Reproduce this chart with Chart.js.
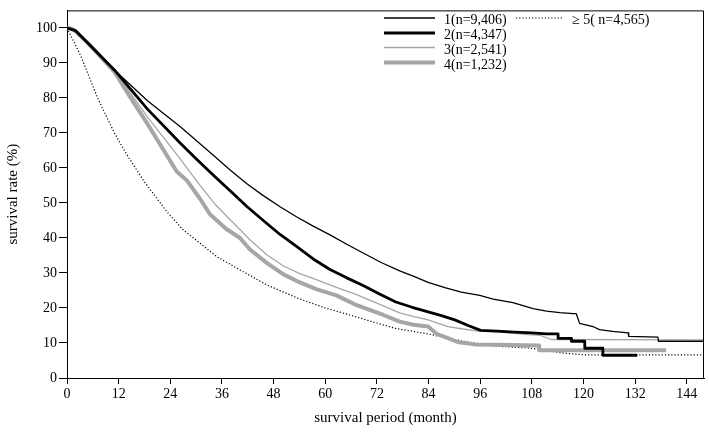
<!DOCTYPE html>
<html><head><meta charset="utf-8">
<script src="https://cdn.jsdelivr.net/npm/chart.js@4"></script>
<style>html,body{margin:0;padding:0;background:#fff}</style>
</head><body>
<canvas id="c" width="709" height="432"></canvas>
<script>
// ---- data ----
const seriesLabels = ['1(n=9,406)', '2(n=4,347)', '3(n=2,541)', '4(n=1,232)', '\u2265 5( n=4,565)'];
const xTicks = [0, 12, 24, 36, 48, 60, 72, 84, 96, 108, 120, 132, 144];
const yTicks = [0, 10, 20, 30, 40, 50, 60, 70, 80, 90, 100];

const months1 = [0, 2, 5, 11, 18.7, 26.4, 34.2, 37.9, 41.8, 45.6, 49.5, 53.4, 57.2, 61.1, 65, 68.8, 73, 77.3, 80.6, 83.9, 87.8, 91.6, 95.9, 99, 103.6, 108.3, 111.4, 114.5, 117.6, 118.3, 119.1, 122.2, 123.7, 126.8, 130.4, 130.5, 137.3, 137.4, 148];
const surv1   = [100, 99.2, 95.5, 88, 79.2, 71.7, 63.4, 59.4, 55.5, 52.1, 48.9, 46, 43.4, 40.9, 38.2, 35.7, 33, 30.6, 29, 27.3, 25.8, 24.5, 23.6, 22.5, 21.5, 19.8, 19.1, 18.7, 18.4, 18.4, 15.6, 14.7, 13.8, 13.3, 12.9, 11.9, 11.7, 10.5, 10.5];

const months2 = [0, 2, 5, 11, 18.7, 26.4, 30.3, 34.2, 37.9, 41.8, 45.6, 49.5, 53.4, 57.2, 61.1, 65, 68.8, 72.6, 76.4, 80.2, 83.9, 87, 90.1, 93.2, 96.1, 100, 104, 108, 111.4, 114.1, 114.1, 117.2, 117.2, 120.3, 120.3, 124.5, 124.5, 132.5];
const surv2   = [100, 99.2, 95.5, 88, 76.8, 67, 62.3, 57.7, 53.5, 49, 45, 41, 37.5, 34, 31, 28.6, 26.4, 24, 21.7, 20.2, 18.9, 17.8, 16.6, 15, 13.6, 13.4, 13.1, 12.9, 12.6, 12.6, 11.3, 11.3, 10.5, 10.5, 8.5, 8.5, 6.5, 6.5];

const months3 = [0, 2, 5, 11, 18.7, 25.4, 30.9, 34.5, 38.5, 42.5, 46.4, 50.3, 54.1, 57.9, 62.6, 67.3, 73.5, 77.3, 80.6, 83.9, 88.5, 92, 95.5, 100, 107.1, 110, 112.5, 148];
const surv3   = [100, 99.2, 95.5, 88, 74.5, 64, 55, 49.5, 44.5, 39.5, 35.2, 32, 29.8, 28.1, 25.9, 23.8, 20.6, 18.6, 17.5, 16.6, 14.7, 14, 13.4, 13.2, 12.4, 12.2, 11, 10.9];

const months4 = [0, 1, 2, 5, 11, 14.8, 18.7, 23, 25.5, 27.8, 30.9, 33.2, 37.1, 40.2, 42.5, 46.4, 50.3, 54.1, 57.9, 62.6, 67.3, 73.5, 77.3, 80.5, 83.9, 86, 88.5, 91, 94.7, 100, 109.7, 109.7, 139.2];
const surv4   = [100, 99.8, 99, 95.5, 87.5, 80, 72.6, 64, 59, 56.5, 51.2, 46.8, 42.5, 40, 36.7, 32.9, 29.6, 27.3, 25.4, 23.6, 20.8, 18, 16.1, 15.2, 14.7, 12.5, 11.4, 10.2, 9.6, 9.5, 9.3, 7.9, 7.9];

const months5 = [0, 1, 3.2, 7.1, 11, 13.9, 18, 23.2, 27, 30.9, 35, 40, 46.4, 54, 60, 65.7, 70, 76.2, 83.9, 91.6, 99.4, 107.1, 114.8, 120.3, 148];
const surv5   = [100, 97.5, 92, 80, 70, 63.8, 56, 47.5, 42.3, 38.5, 34.5, 31, 26.6, 22.6, 20, 18, 16.4, 14.2, 12.6, 10.6, 9.1, 8.6, 7.2, 6.6, 6.6];

// ---- chart ----
const FONT = "'Liberation Serif', 'DejaVu Serif', serif";
const toXY = (ms, vs) => ms.map((m, i) => ({x: m, y: vs[i]}));

const styles = [
  {borderColor: '#000000', borderWidth: 1.3, borderDash: []},
  {borderColor: '#000000', borderWidth: 2.8, borderDash: []},
  {borderColor: '#a6a6a6', borderWidth: 1.3, borderDash: []},
  {borderColor: '#a6a6a6', borderWidth: 4, borderDash: []},
  {borderColor: '#000000', borderWidth: 1.2, borderDash: [1.2, 2]}
];
const allMonths = [months1, months2, months3, months4, months5];
const allSurv = [surv1, surv2, surv3, surv4, surv5];

const datasets = seriesLabels.map((lab, i) => Object.assign({
  label: lab,
  data: toXY(allMonths[i], allSurv[i]),
  pointRadius: 0,
  tension: 0,
  fill: false,
  borderCapStyle: 'butt',
  borderJoinStyle: 'round'
}, styles[i]));

const framePlugin = {
  id: 'frame',
  afterDraw(chart) {
    const {ctx, chartArea: a} = chart;
    ctx.save();
    ctx.strokeStyle = '#000';
    ctx.lineWidth = 1;
    ctx.beginPath();
    ctx.moveTo(a.left, a.top + 0.5);
    ctx.lineTo(a.right - 0.5, a.top + 0.5);
    ctx.lineTo(a.right - 0.5, a.bottom);
    ctx.stroke();
    ctx.restore();
  }
};

const legendPlugin = {
  id: 'customLegend',
  afterDraw(chart) {
    const {ctx} = chart;
    const ds = chart.data.datasets;
    // column 1 holds the first four entries, column 2 the fifth
    const slots = [
      {lx: 384, tx: 444, y: 18}, {lx: 384, tx: 444, y: 33},
      {lx: 384, tx: 444, y: 47.5}, {lx: 384, tx: 444, y: 62.5},
      {lx: 516, tx: 572, y: 18}
    ];
    const lens = [51, 51, 51, 51, 48];
    ctx.save();
    ctx.font = '14px ' + FONT;
    ctx.fillStyle = '#000';
    ctx.textBaseline = 'middle';
    ds.forEach((d, i) => {
      const s = slots[i];
      ctx.beginPath();
      ctx.strokeStyle = d.borderColor;
      ctx.lineWidth = d.borderWidth;
      ctx.setLineDash(d.borderDash || []);
      ctx.moveTo(s.lx, s.y);
      ctx.lineTo(s.lx + lens[i], s.y);
      ctx.stroke();
      ctx.setLineDash([]);
      ctx.fillText(d.label, s.tx, s.y + 2.5);
    });
    ctx.restore();
  }
};

new Chart(document.getElementById('c'), {
  type: 'line',
  data: {datasets},
  options: {
    responsive: false,
    animation: false,
    events: [],
    layout: {padding: {top: 3, right: 5, left: 0, bottom: 0}},
    plugins: {legend: {display: false}, tooltip: {enabled: false}},
    scales: {
      x: {
        type: 'linear', min: 0, max: 148,
        afterFit(s) { s.height = 54; },
        afterBuildTicks(s) { s.ticks = xTicks.map(v => ({value: v})); },
        grid: {display: true, drawOnChartArea: false, drawTicks: true, tickLength: 6, color: '#000', lineWidth: 1},
        border: {display: true, color: '#000', width: 1},
        ticks: {color: '#000', font: {family: FONT, size: 14}, padding: 2, maxRotation: 0, autoSkip: false},
        title: {display: true, text: 'survival period (month)', color: '#000', font: {family: FONT, size: 15}, padding: {top: 0, bottom: 5}}
      },
      y: {
        type: 'linear', min: 0, max: 105,
        afterFit(s) { s.width = 67; },
        afterBuildTicks(s) { s.ticks = yTicks.map(v => ({value: v})); },
        grid: {display: true, drawOnChartArea: false, drawTicks: true, tickLength: 8, color: '#000', lineWidth: 1},
        border: {display: true, color: '#000', width: 1},
        ticks: {color: '#000', font: {family: FONT, size: 14}, padding: 2},
        title: {display: true, text: 'survival rate (%)', color: '#000', font: {family: FONT, size: 15}, padding: {top: 4, bottom: 0}}
      }
    }
  },
  plugins: [framePlugin, legendPlugin]
});
</script>
</body></html>
